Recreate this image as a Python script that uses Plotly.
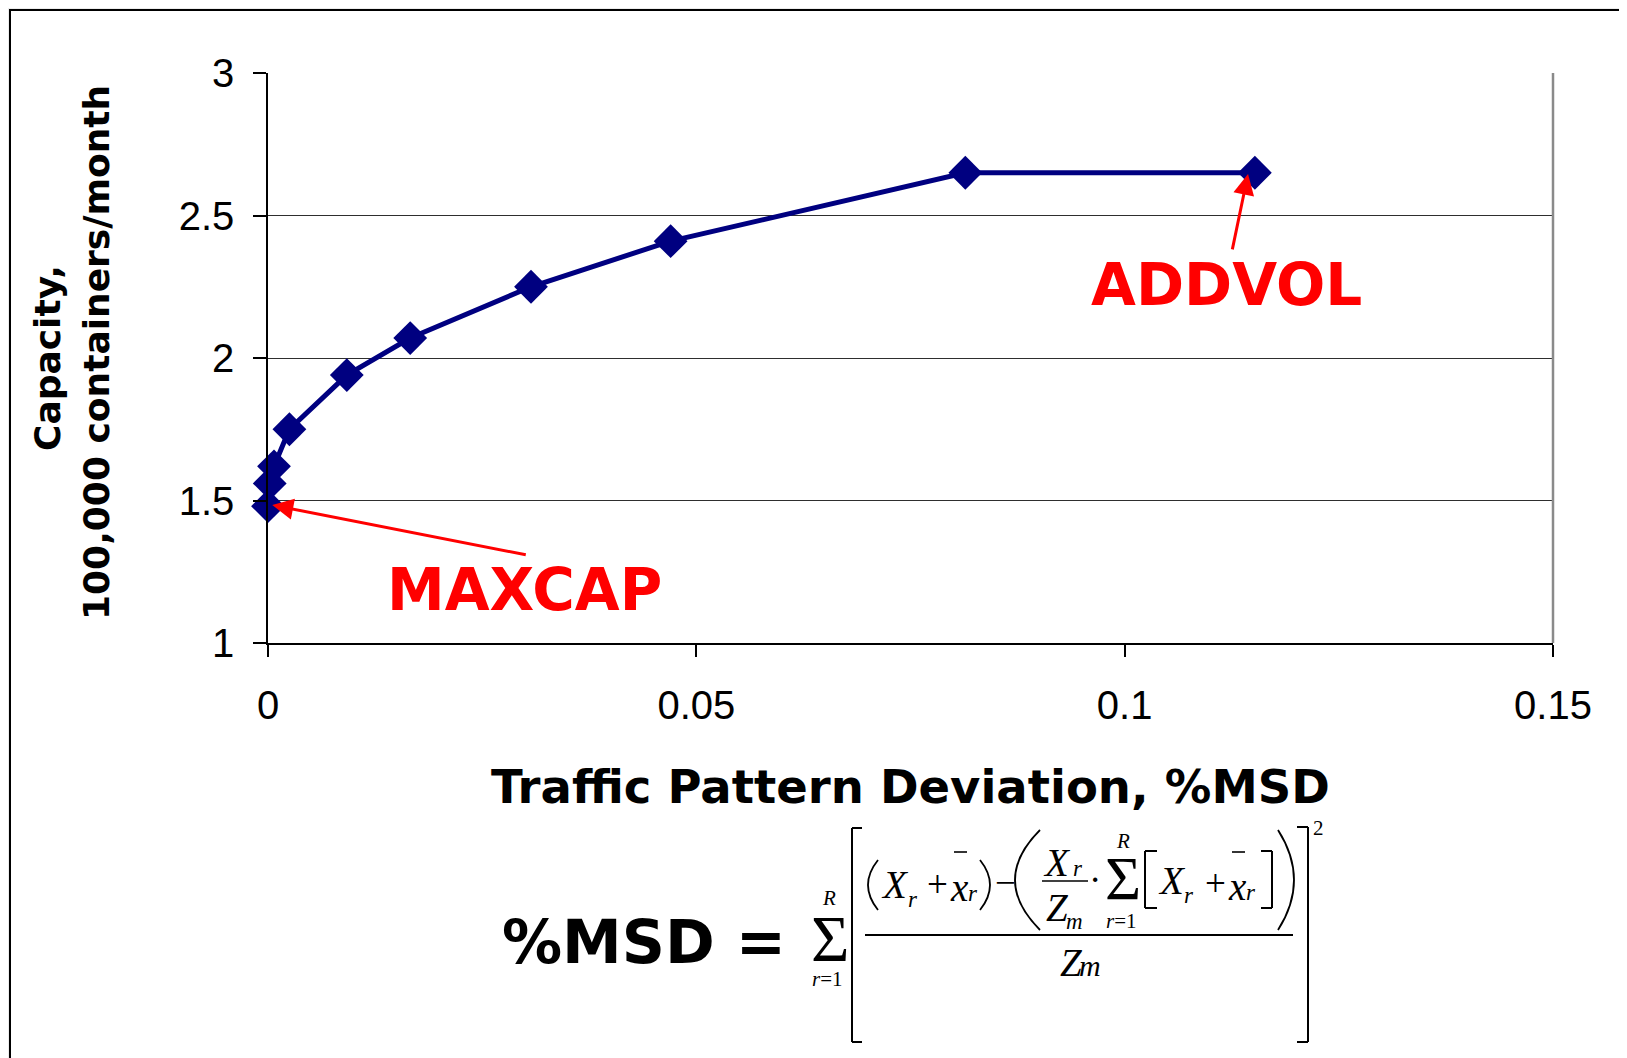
import plotly.graph_objects as go

# ---------------- data ----------------
deviation = [0.0, 0.0002, 0.0007, 0.0025, 0.0092, 0.0166, 0.0307, 0.0470, 0.0814, 0.1152]
capacity = [1.48, 1.56, 1.62, 1.75, 1.94, 2.07, 2.25, 2.41, 2.65, 2.65]
x_ticks = [0, 0.05, 0.1, 0.15]
x_tick_labels = ["0", "0.05", "0.1", "0.15"]
y_ticks = [1, 1.5, 2, 2.5, 3]
y_tick_labels = ["1", "1.5", "2", "2.5", "3"]
maxcap_point = (0.0005, 1.484)
addvol_point = (0.1144, 2.646)

# ---------------- layout geometry ----------------
# page body has an 8px margin, so the figure is drawn 8px smaller and
# all reference-pixel positions below are page positions.
OFF = 8
W, H = 1627 - OFF, 1058 - OFF
L, R, T, B = 268, 1553, 73, 643          # plot area in page pixels
PW, PH = R - L, B - T


def PX(px):
    return (px - L) / PW


def PY(py):
    return (B - py) / PH


NAVY = "#000080"
RED = "#ff0000"
SERIF = "Liberation Serif"
BOLD = "DejaVu Sans"

fig = go.Figure()
fig.add_trace(go.Scatter(
    x=deviation, y=capacity, mode="lines+markers",
    line=dict(color=NAVY, width=5),
    marker=dict(symbol="diamond", size=26, color=NAVY),
    showlegend=False, cliponaxis=False,
))

shapes = []
annotations = []

# slide frame
shapes.append(dict(type="rect", xref="paper", yref="paper", layer="below",
                   x0=PX(10), x1=PX(1700), y0=PY(1100), y1=PY(10),
                   fillcolor="white", line=dict(color="black", width=2)))
# plot area right border
shapes.append(dict(type="line", xref="paper", yref="paper",
                   x0=1, x1=1, y0=0, y1=1, line=dict(color="#8a8a8a", width=2.5)))


def txt(x, y, text, size, family=SERIF, color="black", xanchor="center", yanchor="middle", **kw):
    annotations.append(dict(xref="paper", yref="paper", x=PX(x), y=PY(y), text=text,
                            showarrow=False, xanchor=xanchor, yanchor=yanchor,
                            font=dict(family=family, size=size, color=color), **kw))


def line(x0, y0, x1, y1, w=2):
    shapes.append(dict(type="line", xref="paper", yref="paper",
                       x0=PX(x0), y0=PY(y0), x1=PX(x1), y1=PY(y1),
                       line=dict(color="black", width=w)))


def paren(x_end, y0, y1, x_ctrl, w=1.8):
    path = "M {},{} Q {},{} {},{}".format(PX(x_end), PY(y0), PX(x_ctrl), PY((y0 + y1) / 2),
                                         PX(x_end), PY(y1))
    shapes.append(dict(type="path", xref="paper", yref="paper", path=path,
                       line=dict(color="black", width=w)))


# axis titles
txt((L + R) / 2, 787, "<b>Traffic Pattern Deviation, %MSD</b>", 46.5, family=BOLD)
txt(47, 358, "<b>Capacity,</b>", 36, family=BOLD, textangle=-90)
txt(96, 353, "<b>100,000 containers/month</b>", 36, family=BOLD, textangle=-90)

# labels and arrows
txt(524, 590, "<b>MAXCAP</b>", 58, family=BOLD, color=RED)
txt(1226, 285, "<b>ADDVOL</b>", 58, family=BOLD, color=RED)
annotations.append(dict(x=maxcap_point[0], y=maxcap_point[1], xref="x", yref="y", text="",
                        showarrow=True, ax=255, ay=50, arrowcolor=RED, arrowwidth=3,
                        arrowhead=2, arrowsize=1.4, standoff=0))
annotations.append(dict(x=addvol_point[0], y=addvol_point[1], xref="x", yref="y", text="",
                        showarrow=True, ax=-16, ay=77, arrowcolor=RED, arrowwidth=3,
                        arrowhead=2, arrowsize=1.4, standoff=0))

# ---------------- formula ----------------
txt(644, 942, "<b>%MSD =</b>", 60, family=BOLD)
txt(830, 938, "Σ", 66)
txt(829, 898, "<i>R</i>", 21)
txt(827, 979, "<i>r</i>=1", 21)
# outer brackets
line(852, 828, 852, 1042)
line(852, 828, 862, 828)
line(852, 1042, 862, 1042)
line(1308, 827, 1308, 1042)
line(1297, 827, 1308, 827)
line(1297, 1042, 1308, 1042)
txt(1318, 828, "2", 21)
# main fraction bar
line(865, 935, 1293, 935)
# (X_r + x_r)
paren(878, 860, 910, 858)
paren(980, 860, 910, 1000)
txt(895, 884, "<i>X</i>", 39)
txt(913, 899, "<i>r</i>", 23)
txt(937, 884, "+", 37)
txt(959, 887, "<i>x</i>", 39)
line(954, 852, 967, 852, 1.6)
txt(973, 893, "<i>r</i>", 23)
txt(1005, 882, "−", 37)
# big parens
paren(1040, 830, 930, 990)
paren(1278, 830, 930, 1310)
# X_r / Z_m
txt(1057, 862, "<i>X</i>", 39)
txt(1078, 868, "<i>r</i>", 23)
line(1042, 881, 1088, 881, 1.6)
txt(1057, 907, "<i>Z</i>", 39)
txt(1074, 921, "<i>m</i>", 23)
txt(1095, 879, "·", 37)
# inner sum
txt(1123, 878, "Σ", 62)
txt(1123, 841, "<i>R</i>", 21)
txt(1121, 921, "<i>r</i>=1", 21)
line(1145, 851, 1145, 908)
line(1145, 851, 1157, 851)
line(1145, 908, 1157, 908)
txt(1172, 880, "<i>X</i>", 39)
txt(1189, 895, "<i>r</i>", 23)
txt(1215, 883, "+", 37)
txt(1237, 886, "<i>x</i>", 39)
line(1232, 852, 1245, 852, 1.6)
txt(1251, 892, "<i>r</i>", 23)
line(1272, 851, 1272, 908)
line(1261, 851, 1272, 851)
line(1261, 908, 1272, 908)
# denominator
txt(1071, 962, "<i>Z</i>", 39)
txt(1090, 965, "<i>m</i>", 30)

fig.update_layout(
    width=W, height=H,
    margin=dict(l=L - OFF, r=W - (R - OFF), t=T - OFF, b=H - (B - OFF), pad=0),
    paper_bgcolor="#ececec", plot_bgcolor="white",
    shapes=shapes, annotations=annotations, showlegend=False,
    xaxis=dict(range=[0, 0.15], tickmode="array", tickvals=x_ticks, ticktext=x_tick_labels,
               showline=True, linecolor="black", linewidth=1.5, ticks="outside", ticklen=12,
               tickcolor="black", tickwidth=1.5, showgrid=False, zeroline=False,
               ticklabelstandoff=14,
               tickfont=dict(family="Liberation Sans", size=40, color="black")),
    yaxis=dict(range=[1, 3], tickmode="array", tickvals=y_ticks, ticktext=y_tick_labels,
               showline=True, linecolor="black", linewidth=1.5, ticks="outside", ticklen=13,
               tickcolor="black", tickwidth=1.5, showgrid=True, gridcolor="#2e2e2e",
               gridwidth=1.4, zeroline=False, ticklabelstandoff=11,
               tickfont=dict(family="Liberation Sans", size=40, color="black")),
)

fig.write_html("out.html")
